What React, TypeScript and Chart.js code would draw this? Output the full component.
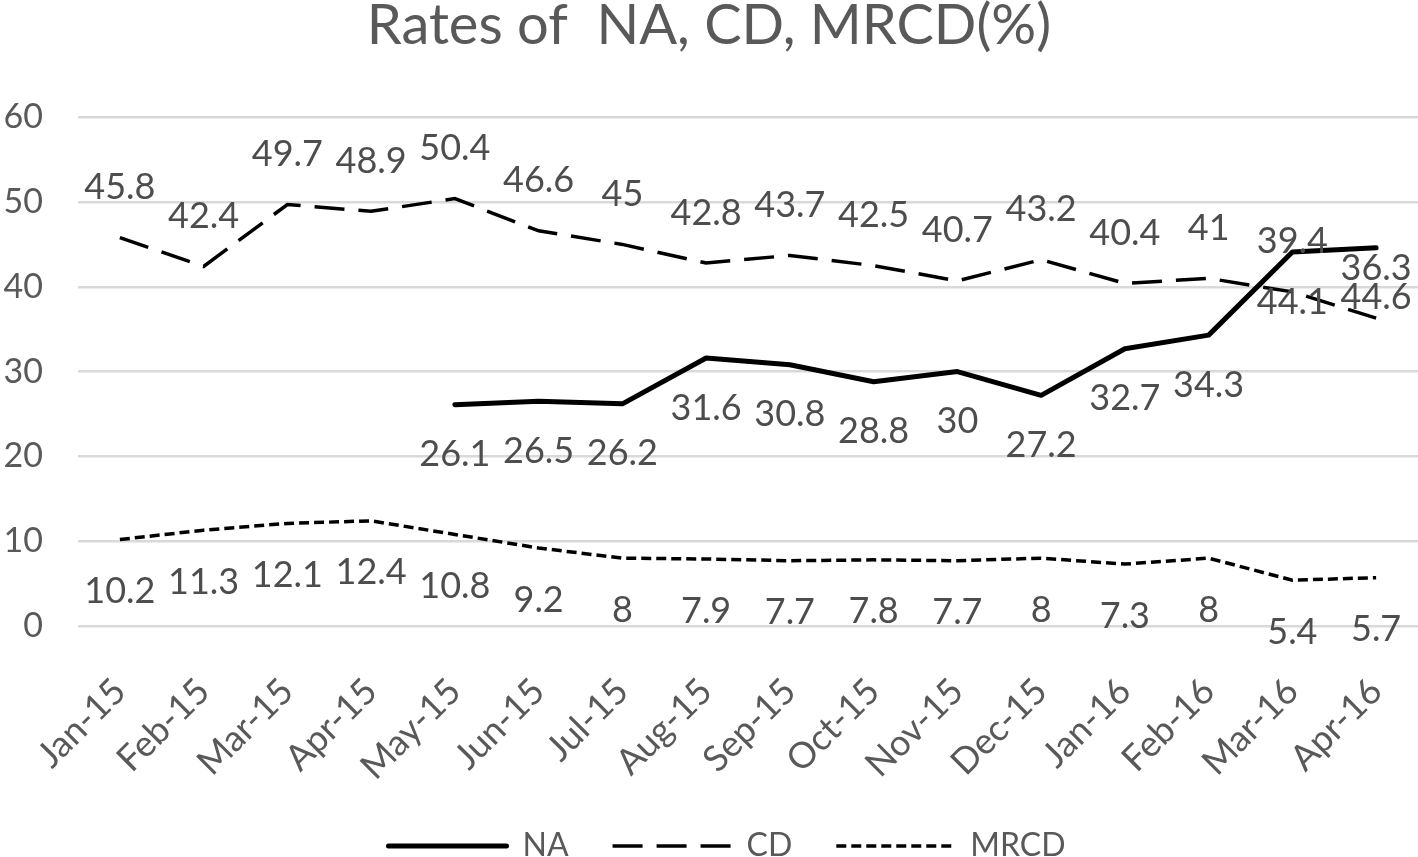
import React, { useEffect, useRef } from "react";
import { Chart, registerables } from "chart.js";

Chart.register(...registerables);

const categories = [
  "Jan-15", "Feb-15", "Mar-15", "Apr-15", "May-15", "Jun-15", "Jul-15", "Aug-15",
  "Sep-15", "Oct-15", "Nov-15", "Dec-15", "Jan-16", "Feb-16", "Mar-16", "Apr-16",
];
const naValues: (number | null)[] = [
  null, null, null, null, 26.1, 26.5, 26.2, 31.6, 30.8, 28.8, 30, 27.2, 32.7, 34.3, 44.1, 44.6,
];
const cdValues = [45.8, 42.4, 49.7, 48.9, 50.4, 46.6, 45, 42.8, 43.7, 42.5, 40.7, 43.2, 40.4, 41, 39.4, 36.3];
const mrcdValues = [10.2, 11.3, 12.1, 12.4, 10.8, 9.2, 8, 7.9, 7.7, 7.8, 7.7, 8, 7.3, 8, 5.4, 5.7];
const seriesNames = ["NA", "CD", "MRCD"];
const titleText = "Rates of  NA, CD, MRCD(%)";
const yMin = 0;
const yMax = 60;
const yStep = 10;

const FONT = "Lato";
const TEXT_COLOR = "#595959";
const LABEL_OFFSETS: Record<string, number> = { NA: 50, CD: -50, MRCD: 52 };

const valueLabelPlugin = {
  id: "valueLabels",
  afterLayout(chart: any) {
    // shift the legend slightly right, as in the reference
    if (chart.legend) chart.legend.left += 36;
  },
  afterDatasetsDraw(chart: any) {
    const ctx = chart.ctx;
    chart.data.datasets.forEach((ds: any, i: number) => {
      const meta = chart.getDatasetMeta(i);
      const off = LABEL_OFFSETS[ds.label] ?? 0;
      meta.data.forEach((pt: any, j: number) => {
        const v = ds.data[j];
        if (v === null || v === undefined) return;
        ctx.save();
        ctx.font = `36px ${FONT}`;
        ctx.fillStyle = "#4d4d4d";
        ctx.textAlign = "center";
        ctx.textBaseline = "middle";
        ctx.fillText(String(v), pt.x, pt.y + off);
        ctx.restore();
      });
    });
  },
};

export default function App() {
  const canvasRef = useRef<HTMLCanvasElement | null>(null);

  useEffect(() => {
    if (!canvasRef.current) return;
    const chart = new Chart(canvasRef.current, {
      type: "line",
      data: {
        labels: categories,
        datasets: [
          {
            label: seriesNames[0],
            data: naValues,
            borderColor: "#000000",
            backgroundColor: "#000000",
            borderWidth: 5,
            borderCapStyle: "round",
            borderJoinStyle: "round",
            pointRadius: 0,
            tension: 0,
            spanGaps: false,
          },
          {
            label: seriesNames[1],
            data: cdValues,
            borderColor: "#000000",
            backgroundColor: "#000000",
            borderWidth: 3.5,
            borderDash: [30, 14],
            borderCapStyle: "butt",
            pointRadius: 0,
            tension: 0,
          },
          {
            label: seriesNames[2],
            data: mrcdValues,
            borderColor: "#000000",
            backgroundColor: "#000000",
            borderWidth: 3.5,
            borderDash: [10, 5],
            borderCapStyle: "butt",
            pointRadius: 0,
            tension: 0,
          },
        ],
      },
      options: {
        animation: false,
        responsive: true,
        maintainAspectRatio: false,
        layout: { padding: { left: 0, right: 0, top: 0, bottom: -15 } },
        plugins: {
          title: {
            display: true,
            text: titleText,
            color: TEXT_COLOR,
            font: { family: FONT, size: 56, weight: "normal" },
            padding: { top: -8, bottom: 58 },
          },
          legend: {
            display: true,
            position: "bottom",
            labels: {
              usePointStyle: true,
              pointStyleWidth: 118,
              color: TEXT_COLOR,
              font: { family: FONT, size: 32 },
              padding: 44,
              generateLabels: (ch: any) =>
                ch.data.datasets.map((ds: any, i: number) => ({
                  text: ds.label,
                  fillStyle: ds.borderColor,
                  strokeStyle: ds.borderColor,
                  fontColor: TEXT_COLOR,
                  lineWidth: ds.borderWidth,
                  lineDash: ds.borderDash || [],
                  lineCap: ds.borderCapStyle || "butt",
                  pointStyle: "line",
                  hidden: false,
                  datasetIndex: i,
                })),
            },
          },
          tooltip: { enabled: false },
        },
        scales: {
          x: {
            offset: true,
            grid: { display: false, drawTicks: false },
            border: { display: false },
            ticks: {
              autoSkip: false,
              minRotation: 45,
              maxRotation: 45,
              color: TEXT_COLOR,
              font: { family: FONT, size: 36 },
              padding: 44,
            },
            afterFit: (scale: any) => {
              scale.height = 160;
              scale.paddingLeft = 0;
              scale.paddingRight = 0;
            },
          },
          y: {
            min: yMin,
            max: yMax,
            ticks: {
              stepSize: yStep,
              color: TEXT_COLOR,
              font: { family: FONT, size: 34 },
              padding: 35,
            },
            grid: { color: "#d9d9d9", lineWidth: 2.5, drawTicks: false },
            border: { display: false },
            afterFit: (scale: any) => {
              scale.width = 78;
            },
          },
        },
      },
      plugins: [valueLabelPlugin],
    });
    return () => chart.destroy();
  }, []);

  return (
    <div style={{ position: "absolute", left: 0, top: 0, width: 1418, height: 857, background: "#ffffff" }}>
      <canvas ref={canvasRef} />
    </div>
  );
}
